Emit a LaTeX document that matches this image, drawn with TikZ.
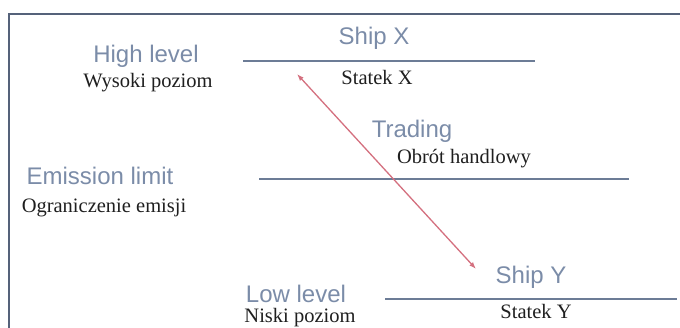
\documentclass[tikz,border=0pt]{standalone}
\usepackage{fontspec}
\setmainfont{Liberation Serif}
\newfontfamily\levelfont{Liberation Sans}
\usetikzlibrary{arrows.meta}
\definecolor{framegray}{HTML}{55627A}
\definecolor{levelblue}{HTML}{6C7C96}
\definecolor{labelblue}{HTML}{7B8CA8}
\definecolor{tradered}{HTML}{D4707F}
\tikzset{
	en/.style={anchor=base, inner sep=0.5pt, text=labelblue, font=\levelfont\fontsize{24}{28}\selectfont},
	pl/.style={anchor=base, inner sep=0.5pt, text=black!88, font=\fontsize{20.5}{24}\selectfont},
	levelline/.style={line width=1.4pt, color=levelblue},
	trade/.style={line width=1.3pt, color=tradered, {Latex[length=7pt,width=5pt]}-{Latex[length=7pt,width=5pt]}}
}

\begin{document}
\begin{tikzpicture}[x=1pt, y=-1pt]
		%%%%% START %%%%%
		\useasboundingbox (0, 0) rectangle (680, 328);
		
		\draw[line width=2pt, color=framegray] (9, 328) -- (9, 14) -- (680, 14);
		
		\node[en] (highEn) at (146, 62.5) {High level};
		\node[pl] (highPl) at (148, 88) {Wysoki poziom};
		\node[en] (shipXEn) at (374, 45) {Ship X};
		\draw[levelline] (243, 61) -- (535, 61);
		\node[pl] (shipXPl) at (377, 85) {Statek X};
		
		\node[en] (tradeEn) at (412, 138) {Trading};
		\node[pl] (tradePl) at (464, 164) {Obrót handlowy};
		
		\node[en] (limitEn) at (100, 185) {Emission limit};
		\node[pl] (limitPl) at (104, 213) {Ograniczenie emisji};
		\draw[levelline] (259, 179) -- (629, 179);
		
		\node[en] (lowEn) at (296, 302.5) {Low level};
		\node[pl] (lowPl) at (300, 322.5) {Niski poziom};
		\node[en] (shipYEn) at (531, 284) {Ship Y};
		\draw[levelline] (385, 299) -- (677, 299);
		\node[pl] (shipYPl) at (536, 319) {Statek Y};
		
		\coordinate (tradeX) at (297, 74);
		\coordinate (tradeY) at (476, 269);
		\draw[trade] (tradeX) -- (tradeY);
		
		%%%%% END %%%%%
	\end{tikzpicture}
\end{document}
